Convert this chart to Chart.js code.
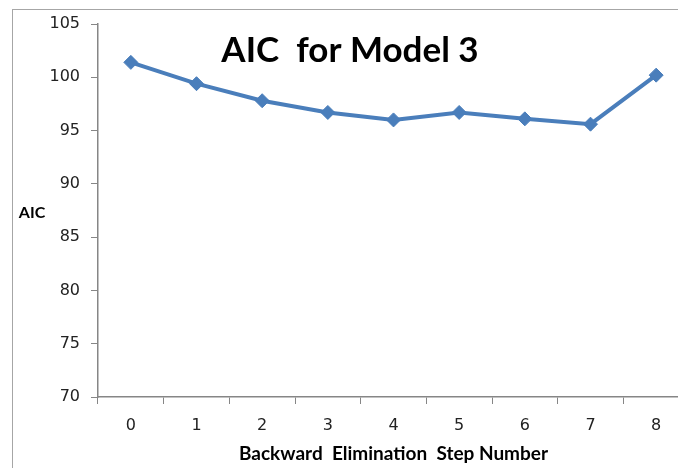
<!DOCTYPE html>
<html>
<head>
<meta charset="utf-8">
<script src="https://cdn.jsdelivr.net/npm/chart.js@4"></script>
<style>
  html, body { margin: 0; padding: 0; background: #fff; overflow: hidden; }
  #wrap { position: relative; width: 678px; height: 468px; overflow: hidden; }
  #frame { position: absolute; left: 12px; top: 9px; right: 0; bottom: 0;
           border-top: 1px solid #a6a6a6; border-left: 1px solid #a6a6a6; }
  canvas { position: absolute; left: 0; top: 0; }
</style>
</head>
<body>
<div id="wrap">
  <div id="frame"></div>
  <canvas id="aicChart" width="700" height="468"></canvas>
</div>
<script>
const steps = ['0', '1', '2', '3', '4', '5', '6', '7', '8'];
const aicValues = [101.4, 99.4, 97.8, 96.7, 96.0, 96.7, 96.1, 95.6, 100.2];

const chartTitle = 'AIC  for Model 3';
const yLabel = 'AIC';
const xLabel = 'Backward  Elimination  Step Number';

const axisGray = '#868686';
const lineBlue = '#4a7ebb';

// title sits inside the plot, and the y label is horizontal, so draw both by hand
const labelsPlugin = {
  id: 'labels',
  afterDraw(chart) {
    const ctx = chart.ctx;
    ctx.save();
    ctx.fillStyle = '#000';
    ctx.textAlign = 'center';
    ctx.textBaseline = 'middle';
    ctx.font = 'bold 35px Lato';
    ctx.fillText(chartTitle, 350, 51);
    ctx.font = 'bold 16px Lato';
    ctx.fillText(yLabel, 32, 213);
    ctx.restore();
  }
};

const tickFont = { family: 'DejaVu Sans', size: 16 };

const ctx = document.getElementById('aicChart').getContext('2d');
new Chart(ctx, {
  type: 'line',
  data: {
    labels: steps,
    datasets: [{
      data: aicValues,
      borderColor: lineBlue,
      backgroundColor: lineBlue,
      borderWidth: 4,
      pointStyle: 'rectRot',
      pointRadius: 7,
      pointBorderWidth: 1,
      tension: 0
    }]
  },
  options: {
    responsive: false,
    animation: false,
    layout: { padding: { left: 0, top: 24, right: 11, bottom: 0 } },
    plugins: {
      legend: { display: false },
      tooltip: { enabled: false }
    },
    scales: {
      x: {
        offset: true,
        grid: {
          offset: true,
          drawOnChartArea: false,
          color: axisGray,
          tickLength: 7
        },
        border: { color: axisGray, width: 1.5 },
        ticks: {
          color: '#222',
          padding: 12,
          font: tickFont
        },
        title: {
          display: true,
          text: xLabel,
          color: '#000',
          font: { family: 'Lato', weight: 'bold', size: 19 },
          padding: { top: 4, bottom: 3 }
        },
        afterFit(scale) { scale.height = 71; }
      },
      y: {
        min: 70,
        max: 105,
        ticks: {
          stepSize: 5,
          color: '#222',
          padding: 11,
          font: tickFont
        },
        grid: {
          drawOnChartArea: false,
          color: axisGray,
          tickLength: 7
        },
        border: { color: axisGray, width: 1.5 },
        afterFit(scale) { scale.width = 98; }
      }
    }
  },
  plugins: [labelsPlugin]
});
</script>
</body>
</html>
